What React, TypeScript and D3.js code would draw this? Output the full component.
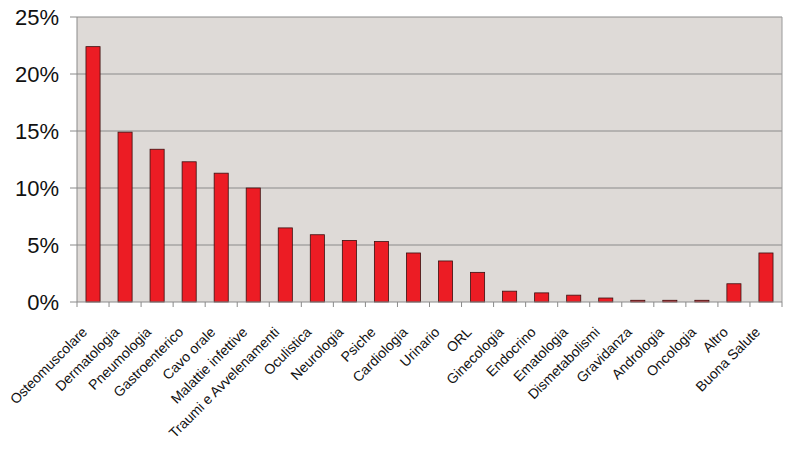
import React from "react";
import * as d3 from "d3";

const categories = [
  "Osteomuscolare", "Dermatologia", "Pneumologia", "Gastroenterico", "Cavo orale",
  "Malattie infettive", "Traumi e Avvelenamenti", "Oculistica", "Neurologia", "Psiche",
  "Cardiologia", "Urinario", "ORL", "Ginecologia", "Endocrino", "Ematologia",
  "Dismetabolismi", "Gravidanza", "Andrologia", "Oncologia", "Altro", "Buona Salute",
];
const values = [
  22.4, 14.9, 13.4, 12.3, 11.3, 10.0, 6.5, 5.9, 5.4, 5.3, 4.3, 3.6, 2.6, 0.95, 0.8, 0.6,
  0.35, 0.15, 0.15, 0.15, 1.6, 4.3,
];
const yTicks = [0, 5, 10, 15, 20, 25];

const W = 788, H = 450;
const left = 77, right = 782, top = 17, bottom = 302;

export default function App() {
  const x = d3.scaleBand<string>().domain(categories).range([left, right]).paddingInner(0).paddingOuter(0);
  const y = d3.scaleLinear().domain([0, 25]).range([bottom, top]);
  const bw = x.bandwidth() * 0.44;
  const font = "'Liberation Sans', Arial, sans-serif";
  return (
    <svg width={W} height={H} style={{ position: "absolute", left: 0, top: 0, background: "#fff" }} fontFamily={font}>
      <rect x={left} y={top} width={right - left} height={bottom - top} fill="#DEDAD7" />
      {yTicks.map((t) => (
        <g key={t}>
          {t > 0 && <line x1={left} x2={right} y1={y(t)} y2={y(t)} stroke="#8a8a8a" strokeWidth={1} />}
          <line x1={left - 7} x2={left} y1={y(t)} y2={y(t)} stroke="#8a8a8a" />
          <text x={59} y={y(t)} dy="0.36em" textAnchor="end" fontSize={22} fill="#111">{t}%</text>
        </g>
      ))}
      <line x1={right} x2={right} y1={top} y2={bottom} stroke="#9a9a9a" />
      {categories.map((c, i) => (
        <rect key={c} x={x(c)! + (x.bandwidth() - bw) / 2} y={y(values[i])} width={bw}
          height={bottom - y(values[i])} fill="#EC1C24" stroke="#3a1010" strokeWidth={0.8} />
      ))}
      <line x1={left} x2={left} y1={top} y2={bottom} stroke="#8a8a8a" />
      <line x1={left} x2={right} y1={bottom} y2={bottom} stroke="#8a8a8a" />
      {categories.map((c) => (
        <line key={"t" + c} x1={x(c)!} x2={x(c)!} y1={bottom} y2={bottom + 5} stroke="#8a8a8a" />
      ))}
      <line x1={right} x2={right} y1={bottom} y2={bottom + 5} stroke="#8a8a8a" />
      {categories.map((c) => {
        const cx = x(c)! + x.bandwidth() / 2 - 5;
        return (
          <text key={"l" + c} transform={`translate(${cx},${bottom + 31}) rotate(-45)`} textAnchor="end"
            fontSize={14} fill="#111">{c}</text>
        );
      })}
    </svg>
  );
}
